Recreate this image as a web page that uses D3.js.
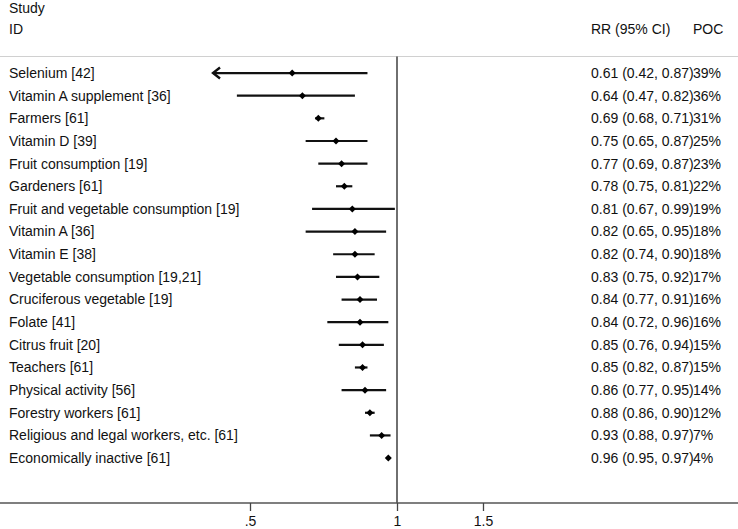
<!DOCTYPE html>
<html>
<head>
<meta charset="utf-8">
<script src="https://cdn.jsdelivr.net/npm/d3@7"></script>
<style>
  html, body { margin: 0; padding: 0; background: #fff; }
  svg text { font-family: "Liberation Sans", Arial, sans-serif; fill: #111; }
</style>
</head>
<body>
<svg id="chart" width="738" height="529"></svg>
<script>
const studies = [
  "Selenium [42]", "Vitamin A supplement [36]", "Farmers [61]", "Vitamin D [39]",
  "Fruit consumption [19]", "Gardeners [61]", "Fruit and vegetable consumption [19]",
  "Vitamin A [36]", "Vitamin E [38]", "Vegetable consumption [19,21]",
  "Cruciferous vegetable [19]", "Folate [41]", "Citrus fruit [20]", "Teachers [61]",
  "Physical activity [56]", "Forestry workers [61]", "Religious and legal workers, etc. [61]",
  "Economically inactive [61]"
];
const rr =    [0.61, 0.64, 0.69, 0.75, 0.77, 0.78, 0.81, 0.82, 0.82, 0.83, 0.84, 0.84, 0.85, 0.85, 0.86, 0.88, 0.93, 0.96];
const lower = [0.42, 0.47, 0.68, 0.65, 0.69, 0.75, 0.67, 0.65, 0.74, 0.75, 0.77, 0.72, 0.76, 0.82, 0.77, 0.86, 0.88, 0.95];
const upper = [0.87, 0.82, 0.71, 0.87, 0.87, 0.81, 0.99, 0.95, 0.90, 0.92, 0.91, 0.96, 0.94, 0.87, 0.95, 0.90, 0.97, 0.97];
const poc =   ["39%", "36%", "31%", "25%", "23%", "22%", "19%", "18%", "18%", "17%", "16%", "16%", "15%", "15%", "14%", "12%", "7%", "4%"];
const clippedLeft = [true, false, false, false, false, false, false, false, false, false, false, false, false, false, false, false, false, false];
const tickValues = [0.5, 1, 1.5];
const tickLabels = [".5", "1", "1.5"];

const svg = d3.select("#chart");
const W = 738;
const FS = 14;

const x = d3.scaleLog().domain([0.5, 1]).range([250, 397]);
const y = d3.scaleBand().domain(d3.range(studies.length)).range([61.7, 469.4]);
const yc = i => y(i) + y.bandwidth() / 2;

// headers
svg.append("text").attr("x", 9).attr("y", 8).attr("dy", "0.35em").attr("font-size", FS).text("Study");
svg.append("text").attr("x", 9).attr("y", 29).attr("dy", "0.35em").attr("font-size", FS).text("ID");
svg.append("text").attr("x", 591).attr("y", 29).attr("dy", "0.35em").attr("font-size", FS).text("RR (95% CI)");
svg.append("text").attr("x", 693).attr("y", 29).attr("dy", "0.35em").attr("font-size", FS).text("POC");

// top separator
svg.append("line").attr("x1", 0).attr("x2", W).attr("y1", 56.5).attr("y2", 56.5)
  .attr("stroke", "#d0d0d0").attr("stroke-width", 1);

// null line
svg.append("line").attr("x1", x(1)).attr("x2", x(1)).attr("y1", 56.5).attr("y2", 503)
  .attr("stroke", "#333").attr("stroke-width", 1.4);

// axis
const axisG = svg.append("g").attr("transform", "translate(0,503)");
axisG.append("line").attr("x1", 0).attr("x2", W).attr("y1", 0).attr("y2", 0)
  .attr("stroke", "#555").attr("stroke-width", 1.6);
const ax = d3.axisBottom(x).tickValues(tickValues)
  .tickFormat((d, i) => tickLabels[i]).tickSize(8).tickSizeOuter(0);
axisG.append("g").call(ax).call(g => {
  g.select(".domain").remove();
  g.selectAll(".tick line").attr("stroke", "#444").attr("stroke-width", 1.3);
  g.selectAll(".tick text").attr("font-size", FS).attr("fill", "#111")
    .attr("font-family", "Liberation Sans, Arial, sans-serif")
    .attr("y", 22.5).attr("dy", 0);
});

// rows
const rows = svg.append("g");
studies.forEach((s, i) => {
  const cy = yc(i);
  rows.append("text").attr("x", 9).attr("y", cy).attr("dy", "0.35em").attr("font-size", FS).text(s);
  rows.append("line").attr("x1", x(lower[i])).attr("x2", x(upper[i])).attr("y1", cy).attr("y2", cy)
    .attr("stroke", "#111").attr("stroke-width", 2.2);
  if (clippedLeft[i]) {
    const ax0 = x(lower[i]);
    rows.append("path")
      .attr("d", `M${ax0 + 7},${cy - 5.5} L${ax0},${cy} L${ax0 + 7},${cy + 5.5}`)
      .attr("fill", "none").attr("stroke", "#111").attr("stroke-width", 2.4);
  }
  const px = x(rr[i]);
  rows.append("path")
    .attr("d", `M${px},${cy - 3.5} L${px + 3.5},${cy} L${px},${cy + 3.5} L${px - 3.5},${cy} Z`)
    .attr("fill", "#000");
  rows.append("text").attr("x", 591).attr("y", cy).attr("dy", "0.35em").attr("font-size", FS)
    .text(`${rr[i].toFixed(2)} (${lower[i].toFixed(2)}, ${upper[i].toFixed(2)})`);
  rows.append("text").attr("x", 693).attr("y", cy).attr("dy", "0.35em").attr("font-size", FS)
    .text(poc[i]);
});
</script>
</body>
</html>
